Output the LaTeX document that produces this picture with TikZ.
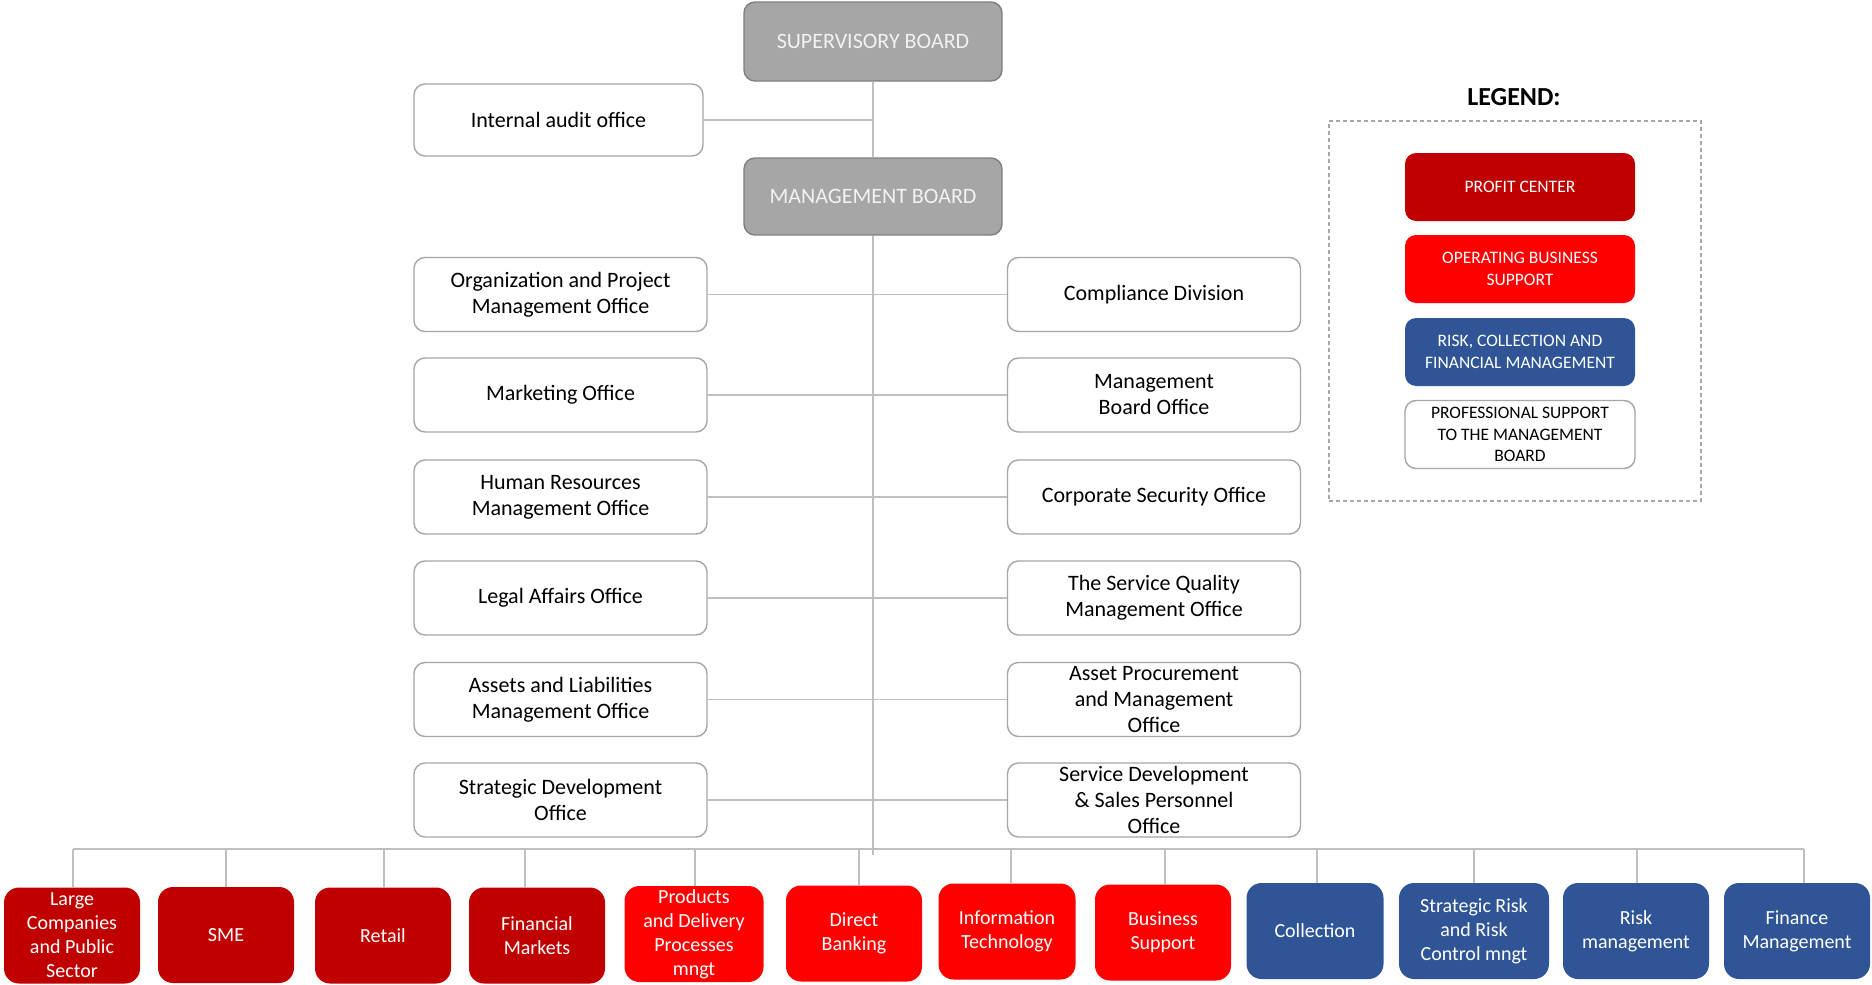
\documentclass[tikz,border=0pt]{standalone}
\usepackage{fontspec}
\setmainfont{Carlito}
\definecolor{pc}{HTML}{C00000}
\definecolor{obs}{HTML}{FF0000}
\definecolor{rcf}{HTML}{2F5597}
\definecolor{brd}{HTML}{A6A6A6}
\definecolor{gbrd}{HTML}{7F7F7F}
\definecolor{lin}{HTML}{BFBFBF}
\definecolor{gtxt}{HTML}{F2F2F2}
\newcommand{\fsz}[2]{\fontsize{#1}{#2}\selectfont}
\begin{document}
\begin{tikzpicture}[x=1pt,y=-1pt,
  wbox/.style={draw=brd, line width=1.4pt, rounded corners=11pt, fill=white,
    minimum width=293pt, minimum height=74pt, align=center, inner sep=0pt,
    font=\fsz{22}{26}},
  gbox/.style={draw=gbrd, line width=1.4pt, rounded corners=11pt, fill=brd,
    minimum width=258pt, minimum height=79pt, align=center, inner sep=0pt,
    text=gtxt, font=\fsz{22}{26}},
  bbox/.style={rounded corners=15pt, minimum height=96pt, align=center,
    inner sep=0pt, text=white, font=\fsz{20}{24}},
  lbox/.style={rounded corners=11pt, minimum width=230pt, minimum height=68pt,
    align=center, inner sep=0pt, text=white, font=\fsz{17.5}{21.5}},
  conn/.style={draw=lin, line width=1.4pt}]
\useasboundingbox (0,0) rectangle (1872,985);

% top boards
\node[gbox] (sup) at (873,41.5) {SUPERVISORY BOARD};
\node[gbox, minimum height=77pt] (mgmt) at (873,196.5) {MANAGEMENT BOARD};
\node[wbox, minimum width=289pt, minimum height=72pt] (ia) at (558.5,120) {Internal audit office};

% left column
\node[wbox] (l1) at (560.5,294.5) {Organization and Project\\Management Office};
\node[wbox] (l2) at (560.5,395) {Marketing Office};
\node[wbox] (l3) at (560.5,497) {Human Resources\\Management Office};
\node[wbox] (l4) at (560.5,598) {Legal Affairs Office};
\node[wbox] (l5) at (560.5,699.5) {Assets and Liabilities\\Management Office};
\node[wbox] (l6) at (560.5,800) {Strategic Development\\Office};

% right column
\node[wbox] (r1) at (1154,294.5) {Compliance Division};
\node[wbox] (r2) at (1154,395) {Management\\ Board Office};
\node[wbox] (r3) at (1154,497) {Corporate Security Office};
\node[wbox] (r4) at (1154,598) {The Service Quality\\Management Office};
\node[wbox] (r5) at (1154,699.5) {Asset Procurement\\and Management\\Office};
\node[wbox] (r6) at (1154,800) {Service Development\\\& Sales Personnel\\Office};

% bottom row
\node[bbox, fill=pc, minimum width=136pt] (b1) at (72,935.5) {Large\\Companies\\and Public\\Sector};
\node[bbox, fill=pc, minimum width=136pt] (b2) at (226,935) {SME};
\node[bbox, fill=pc, minimum width=136pt] (b3) at (383,935.5) {Retail};
\node[bbox, fill=pc, minimum width=136pt] (b4) at (537,935.5) {Financial\\Markets};
\node[bbox, fill=obs, minimum width=139pt] (b5) at (694,934) {Products\\and Delivery\\Processes\\mngt};
\node[bbox, fill=obs, minimum width=136pt] (b6) at (854,933.5) {Direct\\Banking};
\node[bbox, fill=obs, minimum width=137pt] (b7) at (1007,931.5) {Information\\Technology};
\node[bbox, fill=obs, minimum width=136pt] (b8) at (1163,932.5) {Business\\Support};
\node[bbox, fill=rcf, minimum width=137pt] (b9) at (1315,931) {Collection};
\node[bbox, fill=rcf, minimum width=150pt] (b10) at (1474,931) {Strategic Risk\\and Risk\\Control mngt};
\node[bbox, fill=rcf, minimum width=146pt] (b11) at (1636,931) {Risk\\management};
\node[bbox, fill=rcf, minimum width=146pt] (b12) at (1797,931) {Finance\\Management};

% legend
\node[font=\fsz{26}{30}\bfseries] (legt) at (1514,97) {LEGEND:};
\node[draw=brd, line width=1.2pt, dash pattern=on 4pt off 3pt,
  minimum width=372pt, minimum height=380pt, inner sep=0pt] (legbox) at (1515,311) {};
\node[lbox, fill=pc] (lg1) at (1520,187) {PROFIT CENTER};
\node[lbox, fill=obs] (lg2) at (1520,269) {OPERATING BUSINESS\\SUPPORT};
\node[lbox, fill=rcf] (lg3) at (1520,352) {RISK, COLLECTION AND\\FINANCIAL MANAGEMENT};
\node[lbox, fill=white, draw=brd, line width=1.4pt, text=black] (lg4) at (1520,434.5) {PROFESSIONAL SUPPORT\\TO THE MANAGEMENT\\BOARD};

% connectors
\coordinate (busL) at (73,849);
\coordinate (busR) at (1804,849);
\coordinate (trunkend) at (873,855);
\draw[conn] (sup.south) -- (mgmt.north);
\draw[conn] (ia.east) -- (ia.east -| sup.south);
\draw[conn] (mgmt.south) -- (trunkend);
\foreach \i in {1,...,6} {\draw[conn] (l\i.east) -- (r\i.west);}
\draw[conn] (busL) -- (busR);
\foreach \i/\dx in {1/1,2/0,3/1,4/-12,5/1,6/5,7/4,8/2,9/2,10/0,11/1,12/7}
  {\draw[conn] ([xshift=\dx pt]b\i.north) -- ([xshift=\dx pt]b\i.north |- busL);}
\end{tikzpicture}
\end{document}
